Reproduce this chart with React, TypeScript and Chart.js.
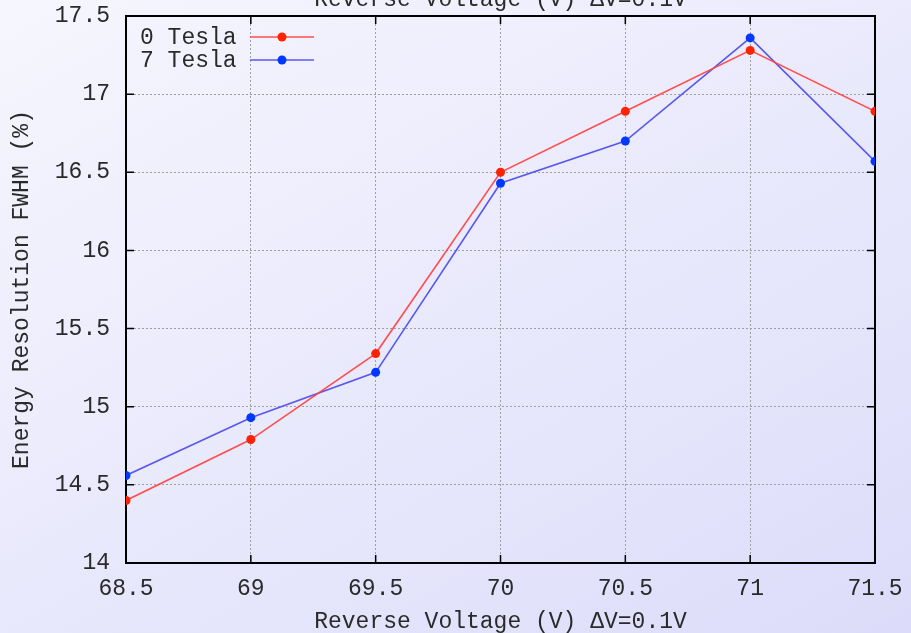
import React, { useEffect, useRef } from "react";
import { Chart, registerables } from "chart.js";

Chart.register(...registerables);

// Reverse bias voltage (V)
const voltages = [68.5, 69, 69.5, 70, 70.5, 71, 71.5];
// Energy resolution FWHM (%) without / with magnetic field
const resolution0T = [14.4, 14.79, 15.34, 16.5, 16.89, 17.28, 16.89];
const resolution7T = [14.56, 14.93, 15.22, 16.43, 16.7, 17.36, 16.57];
const seriesLabels = ["0 Tesla", "7 Tesla"];
const xTicks = [68.5, 69, 69.5, 70, 70.5, 71, 71.5];
const yTicks = [14, 14.5, 15, 15.5, 16, 16.5, 17, 17.5];

const titleText = "Reverse Voltage (V) \u0394V=0.1V";
const yTitleText = "Energy Resolution FWHM (%)";
const FONT = "'Liberation Mono', 'DejaVu Sans Mono', monospace";
const FONT_SIZE = 23;
const TEXT_COLOR = "#2a2a2a";

const lineColors = ["rgba(255,70,70,0.95)", "rgba(80,80,235,0.95)"];
const pointColors = ["#ff2200", "#0038ff"];

// Frame, inward tick marks, top title and legend drawn in gnuplot style
const framePlugin = {
  id: "gnuFrame",
  beforeDatasetsDraw(chart: any) {
    const { ctx, chartArea: a, scales } = chart;
    ctx.save();
    ctx.strokeStyle = "#000";
    ctx.lineWidth = 1.5;
    const tl = 8;
    ctx.beginPath();
    for (const v of xTicks) {
      const x = scales.x.getPixelForValue(v);
      ctx.moveTo(x, a.bottom);
      ctx.lineTo(x, a.bottom - tl);
      ctx.moveTo(x, a.top);
      ctx.lineTo(x, a.top + tl);
    }
    for (const v of yTicks) {
      const y = scales.y.getPixelForValue(v);
      ctx.moveTo(a.left, y);
      ctx.lineTo(a.left + tl, y);
      ctx.moveTo(a.right, y);
      ctx.lineTo(a.right - tl, y);
    }
    ctx.stroke();
    ctx.lineWidth = 2;
    ctx.strokeRect(a.left, a.top, a.right - a.left, a.bottom - a.top);
    ctx.restore();
  },
  afterDraw(chart: any) {
    const { ctx, chartArea: a } = chart;
    ctx.save();
    ctx.font = `${FONT_SIZE}px ${FONT}`;
    ctx.fillStyle = TEXT_COLOR;
    ctx.textAlign = "center";
    ctx.textBaseline = "alphabetic";
    ctx.fillText(titleText, (a.left + a.right) / 2, 6);

    // legend
    chart.data.datasets.forEach((ds: any, i: number) => {
      const y = a.top + 21 + i * 23;
      ctx.fillStyle = TEXT_COLOR;
      ctx.textAlign = "left";
      ctx.textBaseline = "middle";
      ctx.fillText(ds.label, a.left + 14, y + 1);
      ctx.strokeStyle = ds.borderColor;
      ctx.lineWidth = 1.6;
      ctx.beginPath();
      ctx.moveTo(a.left + 124, y);
      ctx.lineTo(a.left + 188, y);
      ctx.stroke();
      ctx.fillStyle = ds.pointBackgroundColor;
      ctx.beginPath();
      ctx.arc(a.left + 156, y, 4.5, 0, Math.PI * 2);
      ctx.fill();
    });
    ctx.restore();
  },
};

export default function App() {
  const canvasRef = useRef<HTMLCanvasElement | null>(null);

  useEffect(() => {
    if (!canvasRef.current) return;
    const chart = new Chart(canvasRef.current, {
      type: "line",
      data: {
        datasets: [resolution0T, resolution7T].map((vals, i) => ({
          label: seriesLabels[i],
          data: voltages.map((v, k) => ({ x: v, y: vals[k] })),
          borderColor: lineColors[i],
          borderWidth: 1.6,
          pointBackgroundColor: pointColors[i],
          pointBorderColor: pointColors[i],
          pointRadius: 4.5,
          pointBorderWidth: 0,
          tension: 0,
          fill: false,
        })),
      },
      options: {
        animation: false,
        responsive: false,
        events: [],
        layout: { padding: { top: 16, right: 36, left: 0, bottom: 0 } },
        plugins: {
          legend: { display: false },
          title: { display: false },
          tooltip: { enabled: false },
        },
        scales: {
          x: {
            type: "linear",
            min: 68.5,
            max: 71.5,
            afterBuildTicks: (s: any) => {
              s.ticks = xTicks.map((v) => ({ value: v }));
            },
            afterFit: (s: any) => {
              s.height = 70;
              s.paddingLeft = 0;
              s.paddingRight = 0;
            },
            ticks: {
              font: { family: FONT, size: FONT_SIZE },
              color: TEXT_COLOR,
              padding: 12,
              maxRotation: 0,
              callback: (v: any) => String(v),
            },
            grid: {
              drawTicks: false,
              color: (c: any) =>
                c.index === 0 || c.index === xTicks.length - 1 ? "rgba(0,0,0,0)" : "#a0a0a0",
              lineWidth: 1,
            },
            border: { display: false, dash: [2, 2] },
            title: {
              display: true,
              text: titleText,
              font: { family: FONT, size: FONT_SIZE },
              color: TEXT_COLOR,
              padding: { top: 0, bottom: -3 },
            },
          },
          y: {
            type: "linear",
            min: 14,
            max: 17.5,
            afterBuildTicks: (s: any) => {
              s.ticks = yTicks.map((v) => ({ value: v }));
            },
            afterFit: (s: any) => {
              s.width = 126;
              s.paddingTop = 0;
              s.paddingBottom = 0;
            },
            ticks: {
              font: { family: FONT, size: FONT_SIZE },
              color: TEXT_COLOR,
              padding: 16,
              callback: (v: any) => String(v),
            },
            grid: {
              drawTicks: false,
              color: (c: any) =>
                c.index === 0 || c.index === yTicks.length - 1 ? "rgba(0,0,0,0)" : "#a0a0a0",
              lineWidth: 1,
            },
            border: { display: false, dash: [2, 2] },
            title: {
              display: true,
              text: yTitleText,
              font: { family: FONT, size: FONT_SIZE },
              color: TEXT_COLOR,
              padding: { top: 8, bottom: 0 },
            },
          },
        },
      },
      plugins: [framePlugin],
    });
    return () => chart.destroy();
  }, []);

  return (
    <div
      style={{
        position: "absolute",
        left: 0,
        top: 0,
        width: 911,
        height: 633,
        background: "linear-gradient(150deg, #f6f6fe 0%, #e8e8fc 55%, #dcdcfa 100%)",
      }}
    >
      <canvas ref={canvasRef} width={911} height={633} style={{ display: "block" }} />
    </div>
  );
}
